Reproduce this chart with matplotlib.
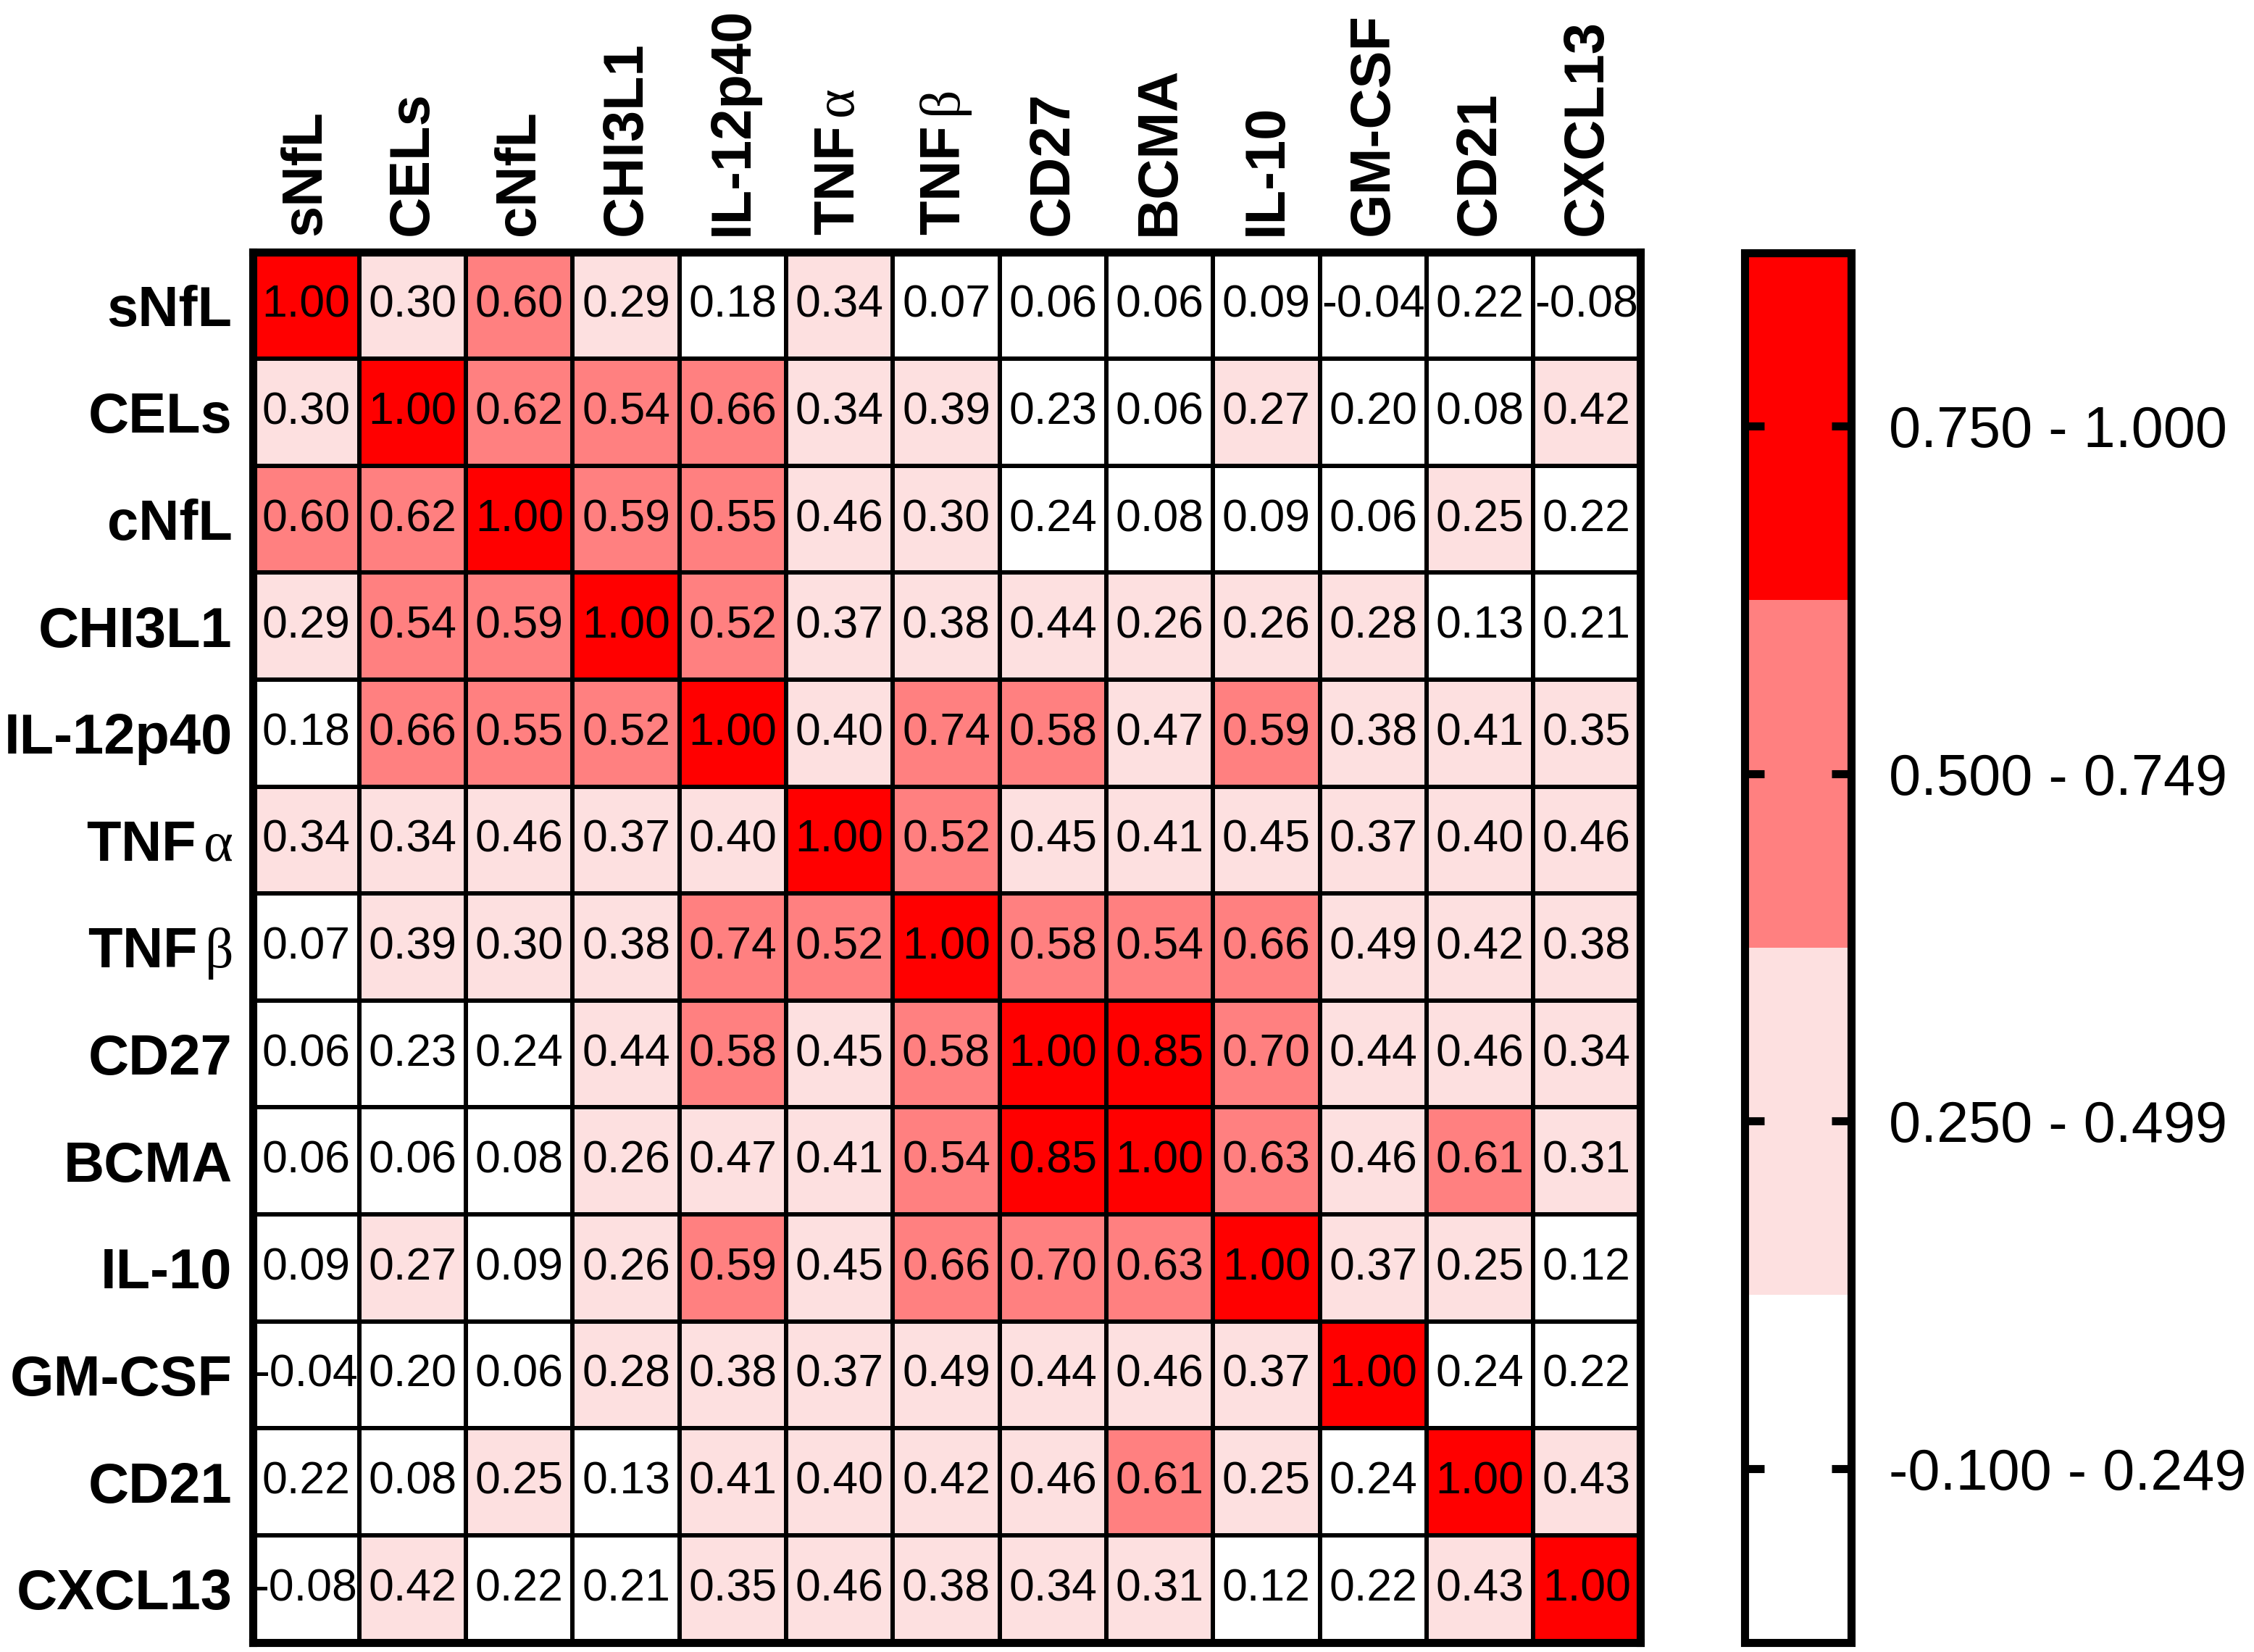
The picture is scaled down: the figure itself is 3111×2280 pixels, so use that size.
import numpy as np
import matplotlib
matplotlib.use("Agg")
import matplotlib.pyplot as plt
from matplotlib.colors import ListedColormap, BoundaryNorm

plt.rcParams['font.family'] = ['Liberation Sans', 'DejaVu Sans']
# upright serif greek, like the Symbol font in the original
plt.rcParams['mathtext.fontset'] = 'custom'
plt.rcParams['mathtext.it'] = 'Liberation Serif'
plt.rcParams['mathtext.rm'] = 'Liberation Serif'

# markers (rows top -> bottom, columns left -> right)
markers = ['sNfL', 'CELs', 'cNfL', 'CHI3L1', 'IL-12p40', r'TNF$\,\alpha$', r'TNF$\,\beta$',
           'CD27', 'BCMA', 'IL-10', 'GM-CSF', 'CD21', 'CXCL13']

r_sNfL = [1.00, 0.30, 0.60, 0.29, 0.18, 0.34, 0.07, 0.06, 0.06, 0.09, -0.04, 0.22, -0.08]
r_CELs = [0.30, 1.00, 0.62, 0.54, 0.66, 0.34, 0.39, 0.23, 0.06, 0.27, 0.20, 0.08, 0.42]
r_cNfL = [0.60, 0.62, 1.00, 0.59, 0.55, 0.46, 0.30, 0.24, 0.08, 0.09, 0.06, 0.25, 0.22]
r_CHI3L1 = [0.29, 0.54, 0.59, 1.00, 0.52, 0.37, 0.38, 0.44, 0.26, 0.26, 0.28, 0.13, 0.21]
r_IL12p40 = [0.18, 0.66, 0.55, 0.52, 1.00, 0.40, 0.74, 0.58, 0.47, 0.59, 0.38, 0.41, 0.35]
r_TNFa = [0.34, 0.34, 0.46, 0.37, 0.40, 1.00, 0.52, 0.45, 0.41, 0.45, 0.37, 0.40, 0.46]
r_TNFb = [0.07, 0.39, 0.30, 0.38, 0.74, 0.52, 1.00, 0.58, 0.54, 0.66, 0.49, 0.42, 0.38]
r_CD27 = [0.06, 0.23, 0.24, 0.44, 0.58, 0.45, 0.58, 1.00, 0.85, 0.70, 0.44, 0.46, 0.34]
r_BCMA = [0.06, 0.06, 0.08, 0.26, 0.47, 0.41, 0.54, 0.85, 1.00, 0.63, 0.46, 0.61, 0.31]
r_IL10 = [0.09, 0.27, 0.09, 0.26, 0.59, 0.45, 0.66, 0.70, 0.63, 1.00, 0.37, 0.25, 0.12]
r_GMCSF = [-0.04, 0.20, 0.06, 0.28, 0.38, 0.37, 0.49, 0.44, 0.46, 0.37, 1.00, 0.24, 0.22]
r_CD21 = [0.22, 0.08, 0.25, 0.13, 0.41, 0.40, 0.42, 0.46, 0.61, 0.25, 0.24, 1.00, 0.43]
r_CXCL13 = [-0.08, 0.42, 0.22, 0.21, 0.35, 0.46, 0.38, 0.34, 0.31, 0.12, 0.22, 0.43, 1.00]

bounds = [-0.1, 0.25, 0.5, 0.75, 1.0]
bin_labels = ['-0.100 - 0.249', '0.250 - 0.499', '0.500 - 0.749', '0.750 - 1.000']
bin_colors = ['#FFFFFF', '#FDE0E0', '#FF8080', '#FF0000']

corr = np.array([r_sNfL, r_CELs, r_cNfL, r_CHI3L1, r_IL12p40, r_TNFa, r_TNFb,
                 r_CD27, r_BCMA, r_IL10, r_GMCSF, r_CD21, r_CXCL13])
n = len(markers)

cmap = ListedColormap(bin_colors)
cmap.set_over(bin_colors[-1])
cmap.set_under(bin_colors[0])
norm = BoundaryNorm(bounds, cmap.N)

W, H = 3111, 2280
fig = plt.figure(figsize=(W / 200, H / 200), dpi=200)
ax = fig.add_axes([348.5 / W, (H - 2266.5) / H, 1915 / W, 1919 / H])
cax = fig.add_axes([2407.5 / W, (H - 2266.5) / H, 147 / W, 1918 / H])

mesh = ax.pcolormesh(np.arange(n + 1), np.arange(n + 1), corr, cmap=cmap, norm=norm,
                     edgecolors='black', linewidth=1.6)
ax.set_xlim(0, n)
ax.set_ylim(n, 0)

for i in range(n):
    for j in range(n):
        ax.text(j + 0.5, i + 0.5, f"{corr[i, j]:.2f}", ha='center', va='center',
                fontsize=22.5, color='black')

ax.set_xticks(np.arange(n) + 0.5)
ax.set_yticks(np.arange(n) + 0.5)
ax.set_xticklabels(markers, rotation=90, fontsize=28, fontweight='bold')
ax.set_yticklabels(markers, fontsize=28, fontweight='bold')
ax.xaxis.tick_top()
ax.tick_params(axis='x', length=0, pad=8)
ax.tick_params(axis='y', length=0, pad=10)
for sp in ax.spines.values():
    sp.set_linewidth(4)

# colour key
mids = [(bounds[k] + bounds[k + 1]) / 2 for k in range(len(bounds) - 1)]
cb = fig.colorbar(mesh, cax=cax, ticks=mids)
cb.minorticks_off()
cb.set_ticks(mids, labels=bin_labels)
cb.outline.set_linewidth(4)
cax.tick_params(axis='y', which='both', left=True, right=True, labelleft=False,
                labelright=True, direction='in', length=9.7, width=4, pad=19,
                labelsize=28.5)

fig.savefig('out.png', dpi=200, facecolor='white')
